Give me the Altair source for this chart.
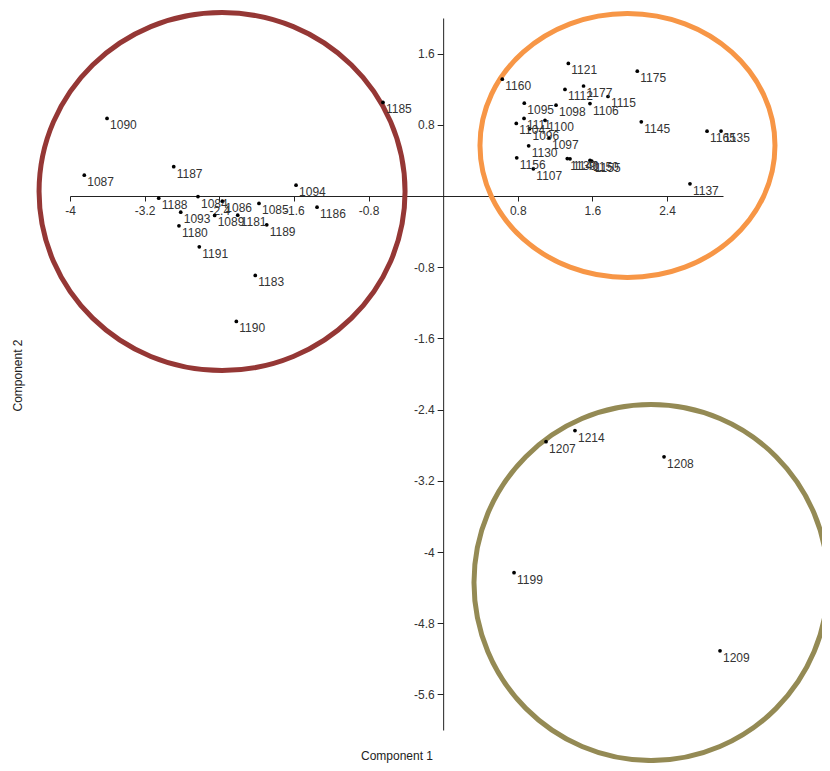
import altair as alt
import pandas as pd

# ---- data: sample ids and PCA scores (Component 1, Component 2) ----
ids = [
    "1090", "1087", "1187", "1094", "1188", "1084", "1086", "1093", "1089", "1181",
    "1085", "1189", "1186", "1180", "1191", "1183", "1190", "1185",
    "1121", "1175", "1160", "1112", "1177", "1115", "1106", "1095", "1098", "1145",
    "1165", "1135", "1111", "1104", "1100", "1096", "1097", "1130", "1156", "1107",
    "1139", "1140", "1150", "1155", "1137",
    "1214", "1207", "1208", "1199", "1209",
]
comp1 = [
    -3.603, -3.847, -2.888, -1.577, -3.049, -2.628, -2.367, -2.813, -2.449, -2.202,
    -1.974, -1.891, -1.352, -2.832, -2.614, -2.014, -2.217, -0.645,
    1.342, 2.081, 0.634, 1.306, 1.505, 1.767, 1.574, 0.870, 1.210, 2.124,
    2.829, 2.979, 0.867, 0.784, 1.092, 0.926, 1.135, 0.917, 0.789, 0.967,
    1.331, 1.360, 1.574, 1.593, 2.646,
    1.413, 1.103, 2.368, 0.760, 2.968,
]
comp2 = [
    0.871, 0.234, 0.329, 0.121, -0.025, -0.006, -0.058, -0.182, -0.219, -0.216,
    -0.084, -0.324, -0.126, -0.335, -0.571, -0.893, -1.410, 1.051,
    1.489, 1.402, 1.312, 1.197, 1.236, 1.118, 1.039, 1.043, 1.020, 0.834,
    0.728, 0.730, 0.871, 0.815, 0.851, 0.755, 0.652, 0.564, 0.429, 0.306,
    0.421, 0.418, 0.399, 0.391, 0.137,
    -2.635, -2.761, -2.930, -4.233, -5.110,
]

# cluster outlines (centres in data units)
cluster_names = ["A", "B", "C"]
cluster_c1 = [-2.370, 1.976, 2.228]
cluster_c2 = [0.050, 0.567, -4.343]

x_ticks = [-4, -3.2, -2.4, -1.6, -0.8, 0.8, 1.6, 2.4]
y_ticks = [1.6, 0.8, -0.8, -1.6, -2.4, -3.2, -4, -4.8, -5.6]

# ---- styles ----
W, H = 653, 712
X_DOM = [-4, 3]
Y_DOM = [-6, 2]
x_zero_px = W * (0 - X_DOM[0]) / (X_DOM[1] - X_DOM[0])
y_zero_px = H * (Y_DOM[1] - 0) / (Y_DOM[1] - Y_DOM[0])
FONT = "Arial, 'Liberation Sans', sans-serif"
cluster_colors = ["#953735", "#F79646", "#948A54"]
cluster_w = [366, 295, 354]   # outline widths (px)
cluster_h = [358, 264, 356]   # outline heights (px)


def ellipse_path(ry):
    k = 0.5523
    return (f"M -1 0 C -1 {-k*ry:.4f} {-k:.4f} {-ry:.4f} 0 {-ry:.4f} "
            f"C {k:.4f} {-ry:.4f} 1 {-k*ry:.4f} 1 0 "
            f"C 1 {k*ry:.4f} {k:.4f} {ry:.4f} 0 {ry:.4f} "
            f"C {-k:.4f} {ry:.4f} -1 {k*ry:.4f} -1 0 Z")


pts = pd.DataFrame({"id": ids, "x": comp1, "y": comp2})
clus = pd.DataFrame({"name": cluster_names, "x": cluster_c1, "y": cluster_c2})

label_expr = "replace(format(datum.value, '.2~f'), '\u2212', '-')"

X = alt.X(
    "x:Q",
    scale=alt.Scale(domain=X_DOM, nice=False, zero=False),
    axis=alt.Axis(
        values=x_ticks, labelExpr=label_expr, grid=False, labelFlush=False,
        offset=-(H - y_zero_px), title="Component 1",
        titleY=563, titleBaseline="alphabetic", titleFontWeight="normal",
        titleFontSize=12, titleFont=FONT, titleColor="#222",
        labelFont=FONT, labelFontSize=12, labelColor="#333",
        tickSize=5, labelPadding=4, domainColor="#222", tickColor="#222",
    ),
)
Y = alt.Y(
    "y:Q",
    scale=alt.Scale(domain=Y_DOM, nice=False, zero=False),
    axis=alt.Axis(
        values=y_ticks, labelExpr=label_expr, grid=False,
        offset=-x_zero_px, title="Component 2",
        titleX=-(x_zero_px + 53), titleY=357, titleBaseline="middle",
        titleFontWeight="normal", titleFontSize=12, titleFont=FONT,
        titleColor="#222", labelFont=FONT, labelFontSize=12, labelColor="#333",
        tickSize=6, labelPadding=3, domainColor="#222", tickColor="#222",
    ),
)

layers = []
for i, name in enumerate(cluster_names):
    layers.append(
        alt.Chart(clus[clus["name"] == name])
        .mark_point(
            shape=ellipse_path(cluster_h[i] / cluster_w[i]),
            size=cluster_w[i] ** 2,
            filled=False,
            stroke=cluster_colors[i],
            strokeWidth=5,
            opacity=1,
        )
        .encode(x=X, y=Y)
    )

dots = alt.Chart(pts).mark_circle(size=14, color="#000", opacity=1).encode(x=X, y=Y)
labels = alt.Chart(pts).mark_text(
    align="left", baseline="alphabetic", dx=3, dy=11,
    font=FONT, fontSize=12, color="#333",
).encode(x=X, y=Y, text="id:N")

chart = (
    alt.layer(*layers, dots, labels)
    .properties(
        width=W, height=H,
        autosize=alt.AutoSizeParams(type="none"),
        padding={"left": 62, "top": 10, "right": 99, "bottom": 33},
    )
    .configure_view(stroke=None)
)

chart.save("out.html", embed_options={"renderer": "svg", "actions": False})
